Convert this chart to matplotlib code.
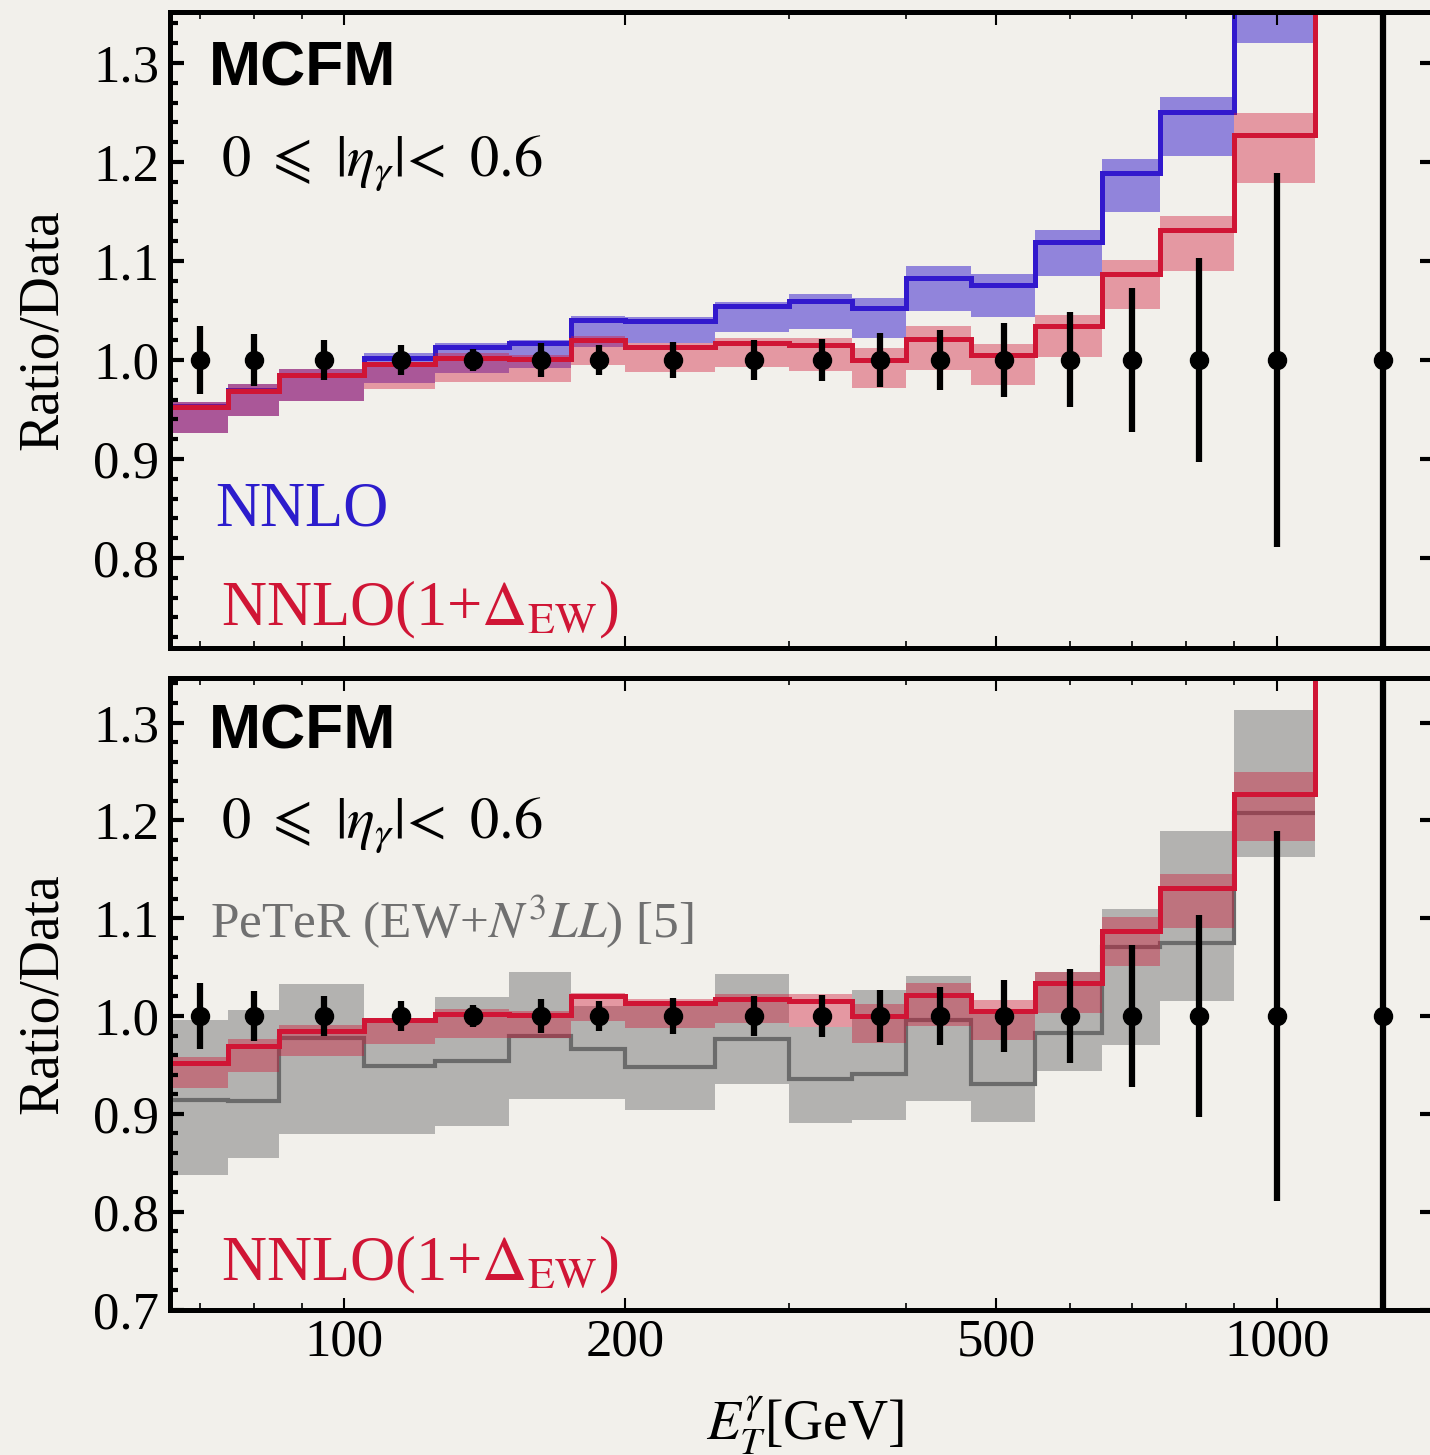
import matplotlib
matplotlib.use("Agg")
import matplotlib.pyplot as plt
from matplotlib.ticker import FixedLocator, FixedFormatter, NullFormatter, MultipleLocator, FormatStrFormatter

plt.rcParams['font.family'] = ['Liberation Serif', 'DejaVu Serif']
plt.rcParams['mathtext.fontset'] = 'stix'

# bin edges and data points (GeV)
edges = [65, 75, 85, 105, 125, 150, 175, 200, 250, 300, 350, 400, 470, 550, 650, 750, 900, 1100, 1500]
centers = [70, 80, 95, 115, 137.5, 162.5, 187.5, 225, 275, 325, 375, 435, 510, 600, 700, 825, 1000, 1300]
data_ratio = [1.0] * 18
data_err = [0.034, 0.026, 0.020, 0.015, 0.011, 0.017, 0.015, 0.018, 0.020, 0.021, 0.027, 0.030,
            0.037, 0.048, 0.073, 0.103, 0.189, 1.0]

# NNLO (blue)
nnlo = [0.953, 0.970, 0.985, 1.002, 1.013, 1.017, 1.040, 1.039, 1.054, 1.060, 1.052, 1.083,
        1.076, 1.119, 1.189, 1.250, 1.45, 1.80]
nnlo_lo = [0.926, 0.943, 0.959, 0.977, 0.987, 0.992, 1.013, 1.017, 1.028, 1.031, 1.022, 1.049,
           1.043, 1.085, 1.149, 1.206, 1.320, 1.65]
nnlo_hi = [0.958, 0.976, 0.991, 1.007, 1.017, 1.020, 1.044, 1.043, 1.059, 1.067, 1.063, 1.095,
           1.087, 1.131, 1.203, 1.266, 1.55, 1.95]

# NNLO(1+Delta_EW) (red)
ew = [0.952, 0.969, 0.985, 0.996, 1.002, 1.001, 1.020, 1.013, 1.017, 1.015, 1.000, 1.021,
      1.005, 1.034, 1.087, 1.131, 1.227, 1.60]
ew_lo = [0.926, 0.943, 0.959, 0.971, 0.978, 0.978, 0.995, 0.988, 0.993, 0.989, 0.972, 0.990,
         0.975, 1.003, 1.051, 1.090, 1.179, 1.50]
ew_hi = [0.958, 0.976, 0.991, 0.998, 1.007, 1.005, 1.024, 1.017, 1.022, 1.022, 1.012, 1.034,
         1.016, 1.045, 1.101, 1.145, 1.249, 1.70]

# PeTeR (gray), up to 1100 GeV
peter = [0.914, 0.913, 0.978, 0.949, 0.954, 0.980, 0.966, 0.948, 0.977, 0.936, 0.941, 0.996,
         0.930, 0.983, 1.071, 1.075, 1.208]
peter_lo = [0.837, 0.855, 0.879, 0.879, 0.888, 0.915, 0.915, 0.904, 0.930, 0.891, 0.894, 0.913,
            0.892, 0.944, 0.970, 1.015, 1.163]
peter_hi = [0.996, 1.006, 1.033, 0.998, 1.019, 1.045, 1.010, 1.010, 1.043, 0.989, 1.027, 1.041,
            1.007, 1.045, 1.109, 1.189, 1.313]

xmajor = [100, 200, 500, 1000]
xminor = [70, 80, 90, 300, 400, 600, 700, 800, 900]

bg = '#f2f0eb'
blue = '#3219cd'
red = '#d01535'
gray = '#6b6b6b'

W, H = 1430, 1455
fig = plt.figure(figsize=(W / 100, H / 100), dpi=100, facecolor=bg)

ax1 = fig.add_axes([170 / W, 1 - 648 / H, 1264 / W, 636 / H])
ax2 = fig.add_axes([170 / W, 1 - 1310 / H, 1264 / W, 632 / H])


def style(ax, ylo, yhi, xlabels):
    ax.set_facecolor(bg)
    ax.set_xscale('log')
    ax.set_xlim(65, 1475)
    ax.set_ylim(ylo, yhi)
    for s in ax.spines.values():
        s.set_linewidth(3.6)
    ax.xaxis.set_major_locator(FixedLocator(xmajor))
    ax.xaxis.set_minor_locator(FixedLocator(xminor))
    if xlabels:
        ax.xaxis.set_major_formatter(FixedFormatter([str(v) for v in xmajor]))
    else:
        ax.xaxis.set_major_formatter(NullFormatter())
    ax.xaxis.set_minor_formatter(NullFormatter())
    ax.yaxis.set_major_locator(MultipleLocator(0.1))
    ax.yaxis.set_minor_locator(MultipleLocator(0.02))
    ax.yaxis.set_major_formatter(FormatStrFormatter('%.1f'))
    ax.tick_params(axis='x', which='major', direction='in', top=True, bottom=True,
                   length=9, width=1.5, labelsize=38, pad=6)
    ax.tick_params(axis='x', which='minor', direction='in', top=True, bottom=True,
                   length=5, width=1.2)
    ax.tick_params(axis='y', which='major', direction='in', left=True, right=True,
                   length=10, width=3, labelsize=38, pad=8)
    ax.tick_params(axis='y', which='minor', direction='in', left=True, right=False,
                   length=6, width=3)
    ax.set_ylabel('Ratio/Data', fontsize=40)
    ax.yaxis.set_label_coords(-0.080, 0.5)


def data_points(ax):
    ax.errorbar(centers, data_ratio, yerr=data_err, fmt='o', color='black',
                markersize=13, elinewidth=4.5, capsize=0, zorder=10)


def header(ax):
    ax.text(0.031, 0.885 if ax is ax1 else 0.889, 'MCFM', transform=ax.transAxes,
            fontsize=45, fontweight='bold', family='Liberation Sans', va='baseline')
    ax.text(0.040, 0.742 if ax is ax1 else 0.747, r'$0\ \leqslant\ |\eta_\gamma|\!<\ 0.6$',
            transform=ax.transAxes, fontsize=42, va='baseline')


# top panel
style(ax1, 0.709, 1.3515, False)
ax1.stairs(nnlo_hi, edges, baseline=nnlo_lo, fill=True, color=blue, alpha=0.5, lw=0)
ax1.stairs(nnlo, edges, baseline=None, color=blue, lw=3.6)
ax1.stairs(ew_hi, edges, baseline=ew_lo, fill=True, color=red, alpha=0.4, lw=0)
ax1.stairs(ew, edges, baseline=None, color=red, lw=3.6)
data_points(ax1)
header(ax1)
ax1.text(0.036, 0.193, 'NNLO', transform=ax1.transAxes, fontsize=45, color='#2c1ccc', va='baseline')
ax1.text(0.040, 0.036, r'NNLO(1+$\Delta_{\mathrm{EW}}$)', transform=ax1.transAxes,
         fontsize=45, color=red, va='baseline')

# bottom panel
style(ax2, 0.6995, 1.3455, True)
ax2.stairs(peter_hi, edges[:-1], baseline=peter_lo, fill=True, color='#808080', alpha=0.55, lw=0)
ax2.stairs(peter, edges[:-1], baseline=None, color=gray, lw=3.0)
ax2.stairs(ew_hi, edges, baseline=ew_lo, fill=True, color=red, alpha=0.4, lw=0)
ax2.stairs(ew, edges, baseline=None, color=red, lw=3.6)
data_points(ax2)
header(ax2)
ax2.text(0.032, 0.589, r'PeTeR (EW+$N^3LL$) [5]', transform=ax2.transAxes,
         fontsize=37, color='#707070', va='baseline')
ax2.text(0.040, 0.047, r'NNLO(1+$\Delta_{\mathrm{EW}}$)', transform=ax2.transAxes,
         fontsize=45, color=red, va='baseline')

fig.text(805 / W, 1 - 1440 / H, r'$E_T^{\gamma}$[GeV]', fontsize=40, ha='center', va='baseline')

fig.savefig('out.png', dpi=100, facecolor=bg)
